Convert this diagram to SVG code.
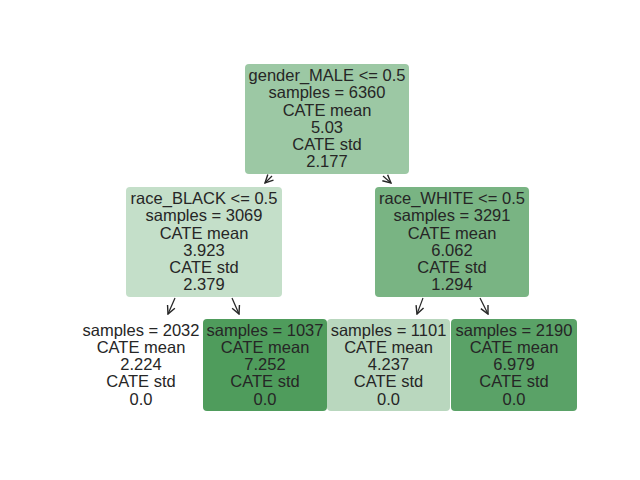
<svg xmlns="http://www.w3.org/2000/svg" width="640" height="480" viewBox="0 0 640 480">
<defs>
<marker id="ah" viewBox="0 0 10 10" refX="9" refY="5" markerWidth="10" markerHeight="10" markerUnits="userSpaceOnUse" orient="auto">
<path d="M1,1 L9,5 L1,9" fill="none" stroke="#262626" stroke-width="1.4"/>
</marker>
<style>
.box{stroke:none}
text{font-family:"Liberation Sans",Arial,sans-serif;font-size:16.5px;fill:#262626;text-anchor:middle}
.edge{stroke:#262626;stroke-width:1.2;fill:none;marker-end:url(#ah)}
</style>
</defs>
<rect width="640" height="480" fill="#ffffff"/>
<g id="connectors">
<line class="edge" x1="272" y1="176" x2="265" y2="183"/>
<line class="edge" x1="383" y1="176" x2="391" y2="183"/>
<line class="edge" x1="175" y1="298" x2="168" y2="314"/>
<line class="edge" x1="232" y1="298" x2="239" y2="314"/>
<line class="edge" x1="423" y1="298" x2="417" y2="314"/>
<line class="edge" x1="480" y1="298" x2="488" y2="314"/>
</g>
<g id="root">
<rect class="box" x="245" y="64" width="164" height="110" rx="4" fill="#9cc8a4"/>
<text x="327" y="81">gender_MALE &lt;= 0.5</text>
<text x="327" y="98.2">samples = 6360</text>
<text x="327" y="115.5">CATE mean</text>
<text x="327" y="132.7">5.03</text>
<text x="327" y="150">CATE std</text>
<text x="327" y="167.2">2.177</text>
</g>
<g id="left">
<rect class="box" x="126" y="187" width="156" height="110" rx="4" fill="#c4dfc9"/>
<text x="204" y="204">race_BLACK &lt;= 0.5</text>
<text x="204" y="221.2">samples = 3069</text>
<text x="204" y="238.5">CATE mean</text>
<text x="204" y="255.7">3.923</text>
<text x="204" y="273">CATE std</text>
<text x="204" y="290.2">2.379</text>
</g>
<g id="right">
<rect class="box" x="375" y="187" width="154" height="110" rx="4" fill="#79b483"/>
<text x="452" y="204">race_WHITE &lt;= 0.5</text>
<text x="452" y="221.2">samples = 3291</text>
<text x="452" y="238.5">CATE mean</text>
<text x="452" y="255.7">6.062</text>
<text x="452" y="273">CATE std</text>
<text x="452" y="290.2">1.294</text>
</g>
<g id="leaf1">
<rect class="box" x="80" y="319" width="123" height="92" rx="4" fill="#ffffff"/>
<text x="141" y="335.5">samples = 2032</text>
<text x="141" y="352.7">CATE mean</text>
<text x="141" y="370">2.224</text>
<text x="141" y="387.2">CATE std</text>
<text x="141" y="404.5">0.0</text>
</g>
<g id="leaf2">
<rect class="box" x="203" y="319" width="124" height="92" rx="4" fill="#4f9c5c"/>
<text x="265" y="335.5">samples = 1037</text>
<text x="265" y="352.7">CATE mean</text>
<text x="265" y="370">7.252</text>
<text x="265" y="387.2">CATE std</text>
<text x="265" y="404.5">0.0</text>
</g>
<g id="leaf3">
<rect class="box" x="327" y="319" width="123" height="92" rx="4" fill="#b9d7be" stroke="#ffffff" stroke-width="1"/>
<text x="388.5" y="335.5">samples = 1101</text>
<text x="388.5" y="352.7">CATE mean</text>
<text x="388.5" y="370">4.237</text>
<text x="388.5" y="387.2">CATE std</text>
<text x="388.5" y="404.5">0.0</text>
</g>
<g id="leaf4">
<rect class="box" x="451" y="319" width="126" height="92" rx="4" fill="#5aa267"/>
<text x="514" y="335.5">samples = 2190</text>
<text x="514" y="352.7">CATE mean</text>
<text x="514" y="370">6.979</text>
<text x="514" y="387.2">CATE std</text>
<text x="514" y="404.5">0.0</text>
</g>
</svg>
